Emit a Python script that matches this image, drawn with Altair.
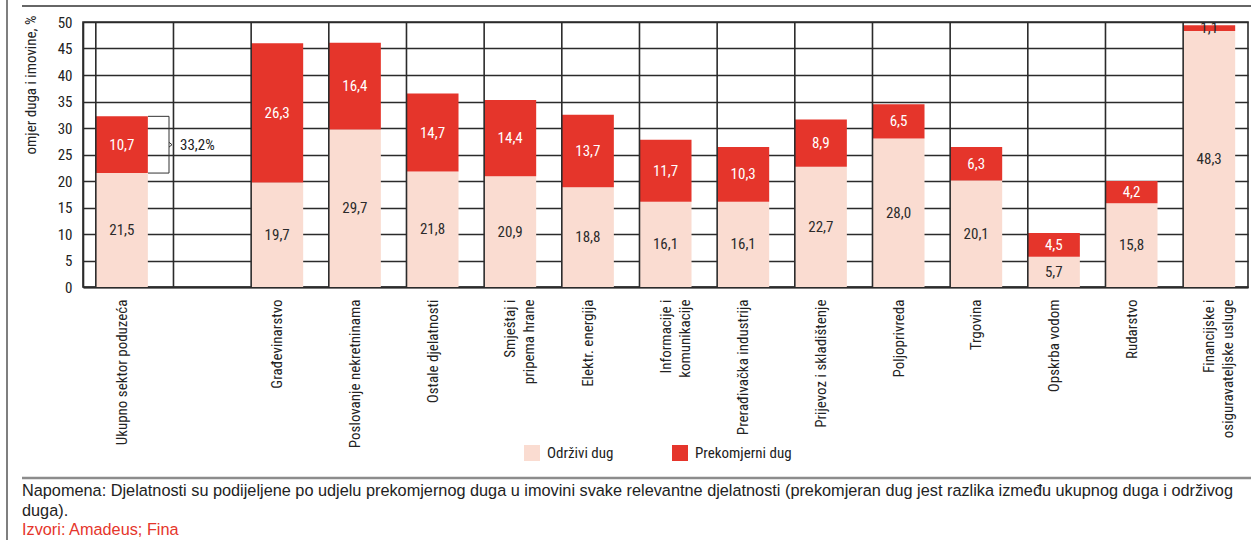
import altair as alt
import pandas as pd

# ---------------- data ----------------
kategorije = [
    "Ukupno sektor poduzeća",
    " ",
    "Građevinarstvo",
    "Poslovanje nekretninama",
    "Ostale djelatnosti",
    "Smještaj i\npripema hrane",
    "Elektr. energija",
    "Informacije i\nkomunikacije",
    "Prerađivačka industrija",
    "Prijevoz i skladištenje",
    "Poljoprivreda",
    "Trgovina",
    "Opskrba vodom",
    "Rudarstvo",
    "Financijske i\nosiguravateljske usluge",
]
odrzivi = [21.5, None, 19.7, 29.7, 21.8, 20.9, 18.8, 16.1, 16.1, 22.7, 28.0, 20.1, 5.7, 15.8, 48.3]
prekomjerni = [10.7, None, 26.3, 16.4, 14.7, 14.4, 13.7, 11.7, 10.3, 8.9, 6.5, 6.3, 4.5, 4.2, 1.1]
serije = ["Održivi dug", "Prekomjerni dug"]
boje = ["#FADCD1", "#E5352B"]
y_ticks = [0, 5, 10, 15, 20, 25, 30, 35, 40, 45, 50]
y_naslov = "omjer duga i imovine, %"
napomena = [
    "Napomena: Djelatnosti su podijeljene po udjelu prekomjernog duga u imovini svake relevantne djelatnosti (prekomjeran dug jest razlika između ukupnog duga i održivog",
    "duga).",
]
izvori = "Izvori: Amadeus; Fina"


def hr(v):
    return f"{v:.1f}".replace(".", ",")


rows = []
for i, c in enumerate(kategorije):
    if odrzivi[i] is None:
        continue
    rows.append(dict(cat=c, serija=serije[0], v=odrzivi[i], ord=0, lab=hr(odrzivi[i]), tc="#2b2b2b"))
    rows.append(dict(cat=c, serija=serije[1], v=prekomjerni[i], ord=1, lab=hr(prekomjerni[i]),
                     tc="#ffffff" if prekomjerni[i] > 2 else "#2b2b2b"))
df = pd.DataFrame(rows)

# ---------------- layout ----------------
W, H = 1165, 265
PAD_L, PAD_T, PAD_R = 83, 22, 3
PAD_B = 540 - PAD_T - H
NARROW = "Liberation Sans Narrow, Arial Narrow, Roboto Condensed, sans-serif"
REG = "Liberation Sans, Arial, Helvetica, sans-serif"
GRID = "#2b2b2b"
TXT = "#222222"

xscale = alt.Scale(domain=kategorije, paddingInner=0.33, paddingOuter=0.165)
yscale = alt.Scale(domain=[0, 50], nice=False)

yaxis = alt.Axis(
    values=y_ticks,
    title=y_naslov,
    titleFont=NARROW,
    titleFontSize=15,
    titleFontWeight="normal",
    titleColor=TXT,
    titleAngle=270,
    titleAlign="right",
    titleBaseline="middle",
    titleX=-53,
    titleY=-7,
    labelFont=NARROW,
    labelFontSize=15,
    labelColor=TXT,
    labelPadding=11,
    ticks=False,
    tickSize=0,
    grid=True,
    gridColor=GRID,
    gridWidth=1.6,
    gridOpacity=1,
    domainColor=GRID,
    domainWidth=1.6,
)

base = alt.Chart(df).transform_stack(
    stack="v", groupby=["cat"], sort=[alt.SortField("ord", order="ascending")], as_=["y0", "y1"]
).transform_calculate(mid="(datum.y0 + datum.y1) / 2")

bars = base.mark_bar().encode(
    x=alt.X(
        "cat:N",
        scale=xscale,
        sort=kategorije,
        axis=alt.Axis(
            title=None,
            labelAngle=270,
            labelExpr="split(datum.label, '\\n')",
            ticks=False,
            tickSize=0,
            labelPadding=12,
            labelFont=NARROW,
            labelFontSize=15,
            labelColor=TXT,
            labelLineHeight=19,
            labelLimit=300,
            domainColor=GRID,
            domainWidth=2,
            grid=False,
        ),
    ),
    y=alt.Y("y0:Q", scale=yscale, axis=yaxis),
    y2="y1:Q",
    color=alt.Color(
        "serija:N",
        scale=alt.Scale(domain=serije, range=boje),
        legend=alt.Legend(
            title=None,
            orient="none",
            direction="horizontal",
            legendX=441,
            legendY=423,
            symbolType="square",
            symbolSize=256,
            symbolStrokeWidth=0,
            symbolOpacity=1,
            labelFont=NARROW,
            labelFontSize=15,
            labelColor=TXT,
            labelOffset=7,
            columnPadding=58,
            padding=0,
        ),
    ),
    order=alt.Order("ord:Q"),
)

labels = base.mark_text(font=NARROW, fontSize=15, baseline="middle", align="center").encode(
    x=alt.X("cat:N", scale=xscale, sort=kategorije, axis=None),
    y=alt.Y("mid:Q", scale=yscale, axis=yaxis),
    text="lab:N",
    fill=alt.Fill("tc:N", scale=None),
)

separators = alt.Chart(pd.DataFrame({"cat": kategorije})).mark_rule(
    color=GRID, strokeWidth=1.6
).encode(x=alt.X("cat:N", scale=xscale, sort=kategorije, bandPosition=0, axis=None))

# bracket on the total bar
ukupno_top = odrzivi[0] + prekomjerni[0]
ukupno_bot = odrzivi[0]
ukupno_mid = (ukupno_top + ukupno_bot) / 2
udio = f"{prekomjerni[0] / ukupno_top * 100:.1f}".replace(".", ",") + "%"
bx0, bx1, bxp = 65, 86, 89
br_df = pd.DataFrame(
    {
        "x": [bx0, bx0, bx1, bx1, bxp],
        "x2": [bx1, bx1, bx1, bxp, bx1],
        "y": [ukupno_top, ukupno_bot, ukupno_bot, ukupno_mid + 0.45, ukupno_mid],
        "y2": [ukupno_top, ukupno_bot, ukupno_top, ukupno_mid, ukupno_mid - 0.45],
    }
)
bracket = alt.Chart(br_df).mark_rule(color="#333333", strokeWidth=1).encode(
    x=alt.X("x:Q", scale=alt.Scale(domain=[0, W], range=[0, W]), axis=None),
    x2="x2:Q",
    y=alt.Y("y:Q", scale=yscale, axis=yaxis),
    y2="y2:Q",
)
br_text = alt.Chart(pd.DataFrame({"t": [udio], "y": [ukupno_mid]})).mark_text(
    font=NARROW, fontSize=15, align="left", baseline="middle", color=TXT
).encode(x=alt.value(97), y=alt.Y("y:Q", scale=yscale, axis=yaxis), text="t:N")

# frame decorations
dec = pd.DataFrame({"d": [0]})
top_line = alt.Chart(dec).mark_rule(color="#333333", strokeWidth=1.5).encode(
    x=alt.value(-61), x2=alt.value(1168), y=alt.value(-16)
)
sep_line = alt.Chart(dec).mark_rule(color="#8c8c8c", strokeWidth=2.5).encode(
    x=alt.value(-61), x2=alt.value(1168), y=alt.value(456)
)
left_line = alt.Chart(dec).mark_rule(color="#555555", strokeWidth=1.5).encode(
    x=alt.value(-76), y=alt.value(-22), y2=alt.value(518)
)
NOTE_FS = 16.3
note1 = alt.Chart(pd.DataFrame({"t": [napomena[0]]})).mark_text(
    font=REG, fontSize=NOTE_FS, align="left", baseline="middle", color=TXT
).encode(x=alt.value(-61), y=alt.value(469), text="t:N")
note2 = alt.Chart(pd.DataFrame({"t": [napomena[1]]})).mark_text(
    font=REG, fontSize=NOTE_FS, align="left", baseline="middle", color=TXT
).encode(x=alt.value(-61), y=alt.value(489), text="t:N")
src = alt.Chart(pd.DataFrame({"t": [izvori]})).mark_text(
    font=REG, fontSize=NOTE_FS, align="left", baseline="middle", color="#E5352B"
).encode(x=alt.value(-61), y=alt.value(508), text="t:N")

chart = (
    alt.layer(bars, separators, labels, bracket, br_text, top_line, sep_line, left_line, note1, note2, src)
    .resolve_scale(x="independent")
    .properties(
        width=W,
        height=H,
        autosize=alt.AutoSizeParams(type="none"),
        padding={"left": PAD_L, "top": PAD_T, "right": PAD_R, "bottom": PAD_B},
        background="white",
    )
    .configure_view(stroke=GRID, strokeWidth=1.6)
)

chart.save("out.html", embed_options={"renderer": "svg", "actions": False})
